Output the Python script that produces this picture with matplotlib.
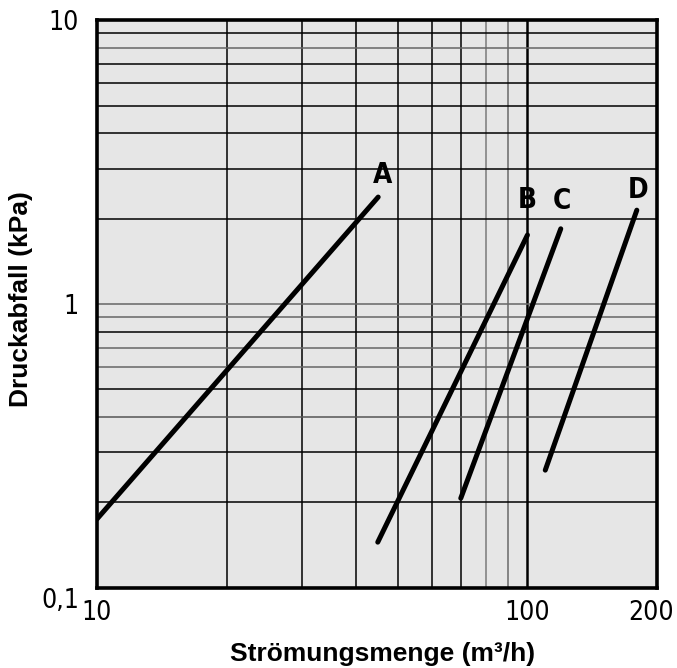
import matplotlib
matplotlib.use('Agg')
from matplotlib import pyplot as plt
from matplotlib import transforms

# Daten (Kurven A-D, Strömungsmenge vs. Druckabfall)
kurven = ['A', 'B', 'C', 'D']
menge_a = [10, 45]
druck_a = [0.175, 2.38]
menge_b = [44.9, 100]
druck_b = [0.145, 1.75]
menge_c = [70, 119.5]
druck_c = [0.207, 1.84]
menge_d = [110, 179.5]
druck_d = [0.26, 2.14]

# Gitterlinien
x_gitter = [20, 30, 40, 50, 60, 70, 80, 90]
x_gitter_farbe = ['k', 'k', 'k', 'k', 'k', 'k', '#7a7a7a', '#6a6a6a']
y_gitter = [0.2, 0.3, 0.4, 0.5, 0.6, 0.7, 0.8, 0.9, 1, 2, 3, 4, 5, 6, 7, 8, 9]
y_gitter_farbe = ['k', 'k', '#555555', 'k', '#666666', '#666666', 'k', '#666666', '#666666',
                  'k', 'k', 'k', 'k', 'k', 'k', '#666666', 'k']

x_ticks = [10, 100, 200]
x_ticklabels = ['10', '100', '200']
y_ticks = [0.1, 1, 10]
y_ticklabels = ['0,1', '1', '10']

schmal = dict(family='DejaVu Sans', stretch='condensed')

fig = plt.figure(figsize=(6.77, 6.68), dpi=100)
ax = fig.add_axes([0.1433, 0.1198, 0.8272, 0.8502])
ax.set_xscale('log')
ax.set_yscale('log')
ax.set_xlim(10, 200)
ax.set_ylim(0.1, 10)
ax.set_facecolor('#e6e6e6')

for x, c in zip(x_gitter, x_gitter_farbe):
    ax.axvline(x, color=c, lw=1.1, zorder=1)
ax.axvline(100, color='k', lw=1.8, zorder=1)
for y, c in zip(y_gitter, y_gitter_farbe):
    ax.axhline(y, color=c, lw=1.1, zorder=1)

alle_menge = [menge_a, menge_b, menge_c, menge_d]
alle_druck = [druck_a, druck_b, druck_c, druck_d]
for menge, druck in zip(alle_menge, alle_druck):
    ax.plot(menge, druck, color='k', lw=3.6, solid_capstyle='round', zorder=3)

# Beschriftung der Kurven oberhalb des Endpunkts (Versatz in Pixeln)
versatz = [(4, 22), (0, 35), (1, 28), (1, 20)]
for name, menge, druck, off in zip(kurven, alle_menge, alle_druck, versatz):
    ax.annotate(name, (menge[-1], druck[-1]), xytext=off, textcoords='offset pixels',
                ha='center', va='center', fontsize=20, fontweight='bold', zorder=4, **schmal)

for s in ax.spines.values():
    s.set_linewidth(2.6)
    s.set_zorder(5)

ax.set_xticks(x_ticks)
ax.set_xticklabels(x_ticklabels)
ax.set_yticks(y_ticks)
ax.set_yticklabels(y_ticklabels)
ax.minorticks_off()
ax.tick_params(length=0, labelsize=19)
ax.tick_params(axis='x', pad=9)
ax.tick_params(axis='y', pad=13)
for t in ax.get_xticklabels() + ax.get_yticklabels():
    t.set_family('DejaVu Sans')
    t.set_stretch('condensed')
ax.get_yticklabels()[0].set_va('top')
# "200" etwas nach links, damit es nicht abgeschnitten wird
lbl = ax.get_xticklabels()[-1]
lbl.set_transform(lbl.get_transform() + transforms.ScaledTranslation(-6 / 100, 0, fig.dpi_scale_trans))

ax.set_xlabel('Strömungsmenge (m³/h)', fontsize=19, fontweight='bold', family='Liberation Sans', va='center')
ax.xaxis.set_label_coords(0.51, -0.116)
ax.set_ylabel('Druckabfall (kPa)', fontsize=19, fontweight='bold', family='Liberation Sans', va='center')
ax.yaxis.set_label_coords(-0.136, 0.509)

plt.savefig('out.png', dpi=100)
